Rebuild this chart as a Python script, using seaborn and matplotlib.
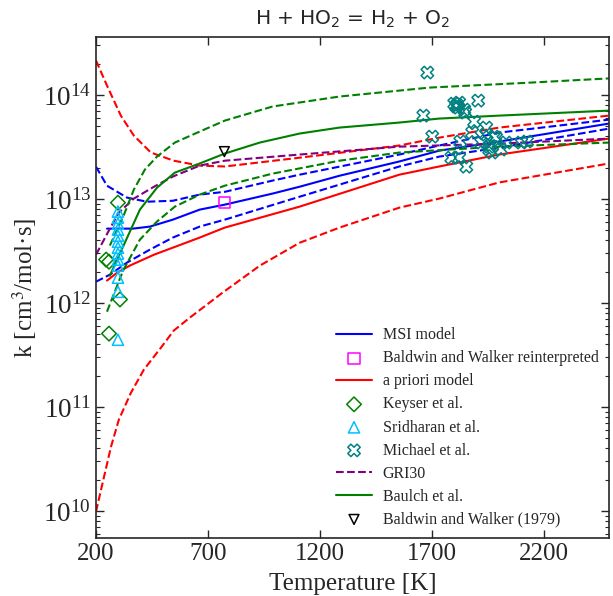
import numpy as np
import pandas as pd
import seaborn as sns
import matplotlib.pyplot as plt
from matplotlib.ticker import LogLocator, NullLocator

# ---- model curves (T [K], k [cm3/mol s]) ----
msi_T = [249, 365, 441, 543, 663, 775, 988, 1109, 1287, 1554, 1732, 2000, 2490]
msi_k = [5.18e12, 5.18e12, 5.42e12, 6.32e12, 7.89e12, 8.81e12, 1.125e13, 1.31e13,
         1.67e13, 2.29e13, 2.91e13, 3.56e13, 5.30e13]

msi_hi_T = [200, 249, 338, 427, 543, 663, 775, 988, 1109, 1554, 1732, 2000, 2490]
msi_hi_k = [2.04e13, 1.34e13, 1.03e13, 9.4e12, 9.6e12, 1.10e13, 1.17e13, 1.50e13,
            1.71e13, 2.67e13, 3.26e13, 4.34e13, 5.78e13]

msi_lo_T = [200, 262, 338, 441, 543, 663, 775, 1109, 1554, 1732, 2000, 2490]
msi_lo_k = [1.60e12, 1.87e12, 2.44e12, 3.26e12, 4.25e12, 5.42e12, 6.32e12, 1.05e13,
            2.05e13, 2.55e13, 3.11e13, 4.74e13]

apriori_T = [249, 294, 352, 459, 543, 663, 775, 1109, 1554, 1732, 2000, 2490]
apriori_k = [1.64e12, 1.95e12, 2.29e12, 2.91e12, 3.40e12, 4.25e12, 5.30e12, 8.43e12,
             1.71e13, 2.05e13, 2.67e13, 3.80e13]

apriori_hi_T = [200, 249, 311, 369, 445, 547, 663, 775, 1109, 1554, 1732, 2000, 2490]
apriori_hi_k = [2.14e14, 1.23e14, 6.31e13, 4.06e13, 2.79e13, 2.33e13, 2.09e13, 2.05e13,
                2.49e13, 3.26e13, 3.88e13, 4.85e13, 6.32e13]

apriori_lo_T = [200, 236, 267, 302, 356, 414, 490, 547, 619, 766, 931, 1109, 1287,
                1554, 1732, 2000, 2490]
apriori_lo_k = [9.86e9, 2.14e10, 4.15e10, 7.55e10, 1.37e11, 2.29e11, 3.72e11, 5.42e11,
                7.23e11, 1.26e12, 2.28e12, 3.79e12, 5.30e12, 8.24e12, 1.007e13,
                1.44e13, 2.19e13]

baulch_T = [262, 325, 396, 472, 552, 663, 775, 931, 1109, 1287, 1554, 1732, 2000, 2490]
baulch_k = [1.83e12, 3.64e12, 7.89e12, 1.28e13, 1.79e13, 2.19e13, 2.73e13, 3.48e13,
            4.25e13, 4.85e13, 5.42e13, 5.92e13, 6.32e13, 7.06e13]

baulch_hi_T = [262, 325, 369, 418, 472, 552, 663, 775, 988, 1287, 1688, 2133, 2490]
baulch_hi_k = [3.56e12, 7.06e12, 1.23e13, 1.91e13, 2.55e13, 3.48e13, 4.44e13, 5.66e13,
               7.73e13, 9.64e13, 1.175e14, 1.31e14, 1.44e14]

baulch_lo_T = [249, 321, 396, 472, 552, 663, 775, 988, 1287, 1554, 2000, 2490]
baulch_lo_k = [8.24e11, 2.05e12, 4.06e12, 6.05e12, 8.43e12, 1.10e13, 1.34e13, 1.75e13,
               2.33e13, 2.79e13, 3.18e13, 3.48e13]

gri_T = [200, 262, 302, 369, 459, 543, 663, 775, 1109, 1554, 2000, 2490]
gri_k = [2.91e12, 5.18e12, 7.38e12, 1.007e13, 1.31e13, 1.64e13, 2.09e13, 2.33e13,
         2.67e13, 3.18e13, 3.40e13, 3.80e13]

# ---- experimental points ----
keyser_T = [298, 245, 258, 307, 258]
keyser_k = [9.2e12, 2.61e12, 2.49e12, 1.08e12, 5.07e11]

sridharan_T = [298] * 13
sridharan_k = [7.56e12, 6.61e12, 5.79e12, 5.07e12, 4.44e12, 3.88e12, 3.40e12, 2.98e12,
               2.61e12, 2.28e12, 1.75e12, 1.28e12, 4.43e11]

michael_T = [1679, 1661, 1701, 1812, 1808, 1821, 1844, 1848, 1906, 1888, 1879, 1942,
             1942, 1977, 1986, 1826, 1919, 1955, 1968, 2008, 2098, 2124, 1786, 1821,
             1853, 1799, 1817, 1955, 2031]
michael_k = [1.64e14, 6.32e13, 3.97e13, 8.07e13, 7.73e13, 8.43e13, 7.22e13, 6.76e13,
             8.81e13, 5.53e13, 4.34e13, 4.85e13, 4.15e13, 3.97e13, 3.88e13, 3.56e13,
             3.48e13, 2.98e13, 2.79e13, 2.98e13, 3.48e13, 3.56e13, 2.49e13, 2.49e13,
             2.04e13, 8.24e13, 7.55e13, 3.18e13, 3.48e13]

bw_reint_T = [775]
bw_reint_k = [9.3e12]

bw1979_T = [773]
bw1979_k = [2.85e13]

x_ticks = [200, 700, 1200, 1700, 2200]

sns.set_style("ticks")
plt.rcParams["font.family"] = ["Liberation Serif", "DejaVu Serif"]
plt.rcParams["mathtext.fontset"] = "stix"
plt.rcParams["xtick.direction"] = "in"
plt.rcParams["ytick.direction"] = "in"

fig = plt.figure(figsize=(6.13, 5.96), dpi=100)
ax = fig.add_axes([0.1566, 0.0973, 0.8369, 0.8406])
ax.set_yscale("log")

lw = 1.5


def line(T, k, color, ls="-", label=None):
    sns.lineplot(x=T, y=k, ax=ax, color=color, linestyle=ls, linewidth=lw,
                 sort=False, label=label, legend=False)


def points(T, k, marker, color, size, label):
    sns.scatterplot(x=T, y=k, ax=ax, marker=marker, facecolor="none",
                    edgecolor=color, linewidth=1.1, s=size, label=label,
                    legend=False, zorder=3)


line(msi_T, msi_k, "blue", label="MSI model")
line(msi_hi_T, msi_hi_k, "blue", "--")
line(msi_lo_T, msi_lo_k, "blue", "--")
line(apriori_T, apriori_k, "red", label="a priori model")
line(apriori_hi_T, apriori_hi_k, "red", "--")
line(apriori_lo_T, apriori_lo_k, "red", "--")
line(gri_T, gri_k, "purple", "--", label="GRI30")
line(baulch_T, baulch_k, "green", label="Baulch et al.")
line(baulch_hi_T, baulch_hi_k, "green", "--")
line(baulch_lo_T, baulch_lo_k, "green", "--")

points(bw_reint_T, bw_reint_k, "s", "magenta", 65, "Baldwin and Walker reinterpreted")
points(keyser_T, keyser_k, "D", "green", 55, "Keyser et al.")
points(sridharan_T, sridharan_k, "^", "deepskyblue", 65, "Sridharan et al.")
points(michael_T, michael_k, "X", "teal", 80, "Michael et al.")
points(bw1979_T, bw1979_k, "v", "black", 50, "Baldwin and Walker (1979)")

order = ["MSI model", "Baldwin and Walker reinterpreted", "a priori model",
         "Keyser et al.", "Sridharan et al.", "Michael et al.", "GRI30",
         "Baulch et al.", "Baldwin and Walker (1979)"]
handles, labels = ax.get_legend_handles_labels()
lookup = dict(zip(labels, handles))
ax.legend([lookup[l] for l in order], order, loc="lower right",
          bbox_to_anchor=(1.0, 0.0), borderaxespad=0.25, frameon=False,
          fontsize=11.5, labelspacing=0.44, handlelength=2.2, handletextpad=0.7,
          scatterpoints=1)

ax.set_xlim(200, 2490)
ax.set_ylim(5.5e9, 3.6e14)
ax.set_xticks(x_ticks)
ax.xaxis.set_minor_locator(NullLocator())
ax.yaxis.set_major_locator(LogLocator(base=10, numticks=10))
ax.yaxis.set_minor_locator(LogLocator(base=10, subs=np.arange(2, 10), numticks=10))
ax.tick_params(which="both", top=True, right=True, labelsize=18)
ax.tick_params(axis="y", which="major", labelsize=19.5)
ax.tick_params(which="major", length=6, width=1)
ax.tick_params(which="minor", length=3, width=0.8)
for s in ax.spines.values():
    s.set_linewidth(1.2)

ax.set_xlabel("Temperature [K]", fontsize=18, labelpad=6)
ax.set_ylabel("k [cm$^3$/mol·s]", fontsize=18, labelpad=3)
ax.set_title("H + HO$_2$ = H$_2$ + O$_2$", fontsize=14.5, family="DejaVu Sans",
             math_fontfamily="dejavusans", pad=9)

fig.savefig("out.png", dpi=100)
